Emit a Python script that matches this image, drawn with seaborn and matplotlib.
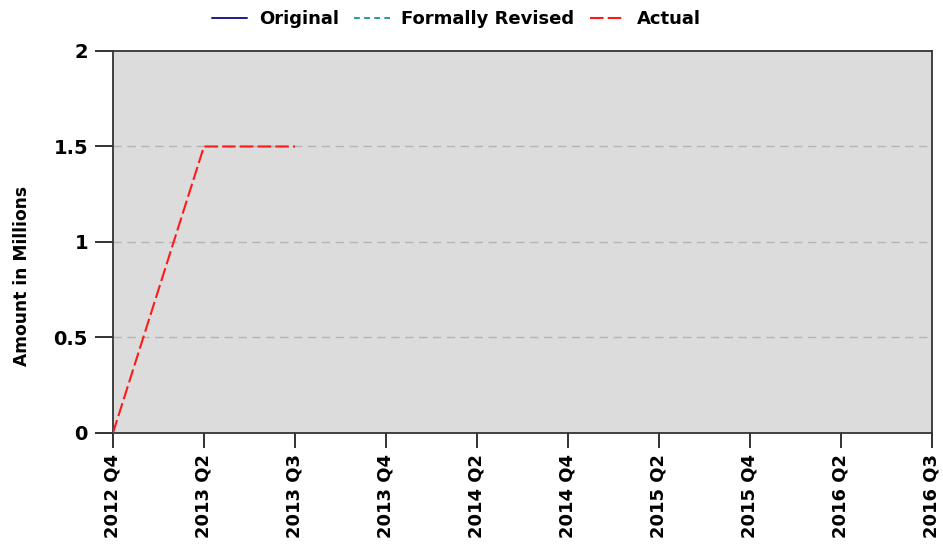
import matplotlib
matplotlib.use("Agg")
import matplotlib.pyplot as plt
import seaborn as sns
import numpy as np
import pandas as pd

quarters = ["2012 Q4", "2013 Q2", "2013 Q3", "2013 Q4", "2014 Q2",
            "2014 Q4", "2015 Q2", "2015 Q4", "2016 Q2", "2016 Q3"]
original = [np.nan] * 10
formally_revised = [np.nan] * 10
actual = [0.0, 1.5, 1.5, np.nan, np.nan, np.nan, np.nan, np.nan, np.nan, np.nan]
y_ticks = [0, 0.5, 1, 1.5, 2]
y_tick_labels = ["0", "0.5", "1", "1.5", "2"]

sns.set_theme(style="white")
plt.rcParams['font.family'] = ['DejaVu Sans']
plt.rcParams['text.color'] = 'black'

fig = plt.figure(figsize=(9.43, 5.46), dpi=100)
ax = fig.add_axes([0.1198, 0.207, 0.8685, 0.6996])
ax.set_facecolor("#dcdcdc")

x = np.arange(len(quarters))
df = pd.DataFrame({"x": x, "Original": original,
                   "Formally Revised": formally_revised, "Actual": actual})

sns.lineplot(data=df, x="x", y="Original", ax=ax, color="#1a1a8c",
             linewidth=1.4, label="Original", legend=False)
sns.lineplot(data=df, x="x", y="Formally Revised", ax=ax, color="#2a9a9a",
             linewidth=1.4, label="Formally Revised", legend=False)
sns.lineplot(data=df, x="x", y="Actual", ax=ax, color="#ff1a1a",
             linewidth=1.5, label="Actual", legend=False)
lines = ax.get_lines()
lines[1].set_dashes((3, 2.2))
lines[2].set_dashes((6.5, 2))
for ln in lines:
    ln.set_zorder(3)

ax.set_xlim(0, len(quarters) - 1)
ax.set_ylim(0, 2)
ax.set_xticks(x)
ax.set_xticklabels(quarters, rotation=90, fontsize=13, fontweight="bold", color="black")
ax.set_yticks(y_ticks)
ax.set_yticklabels(y_tick_labels, fontsize=14, fontweight="bold", color="black")
ax.set_xlabel("")
ax.set_ylabel("Amount in Millions", fontsize=12.3, fontweight="bold", color="black")
ax.yaxis.set_label_coords(-0.100, 0.411)

for yv in [0.5, 1, 1.5]:
    ax.axhline(yv, color="#b4b4b4", linestyle=(0, (6, 4)), linewidth=1.0, zorder=0.5)

for s in ax.spines.values():
    s.set_visible(True)
    s.set_color("#333333")
    s.set_linewidth(1.3)

ax.tick_params(axis="y", which="both", direction="out", length=13, width=1.3,
               color="#222222", left=True, pad=5)
ax.tick_params(axis="x", which="both", direction="out", length=11, width=1.3,
               color="#222222", bottom=True, pad=4)

handles = lines[:3]
labels = ["Original", "Formally Revised", "Actual"]
leg = fig.legend(handles, labels, loc="center", bbox_to_anchor=(0.484, 0.965),
                 ncol=3, frameon=False, fontsize=13, handlelength=1.95,
                 columnspacing=0.85, handletextpad=0.65)
for t in leg.get_texts():
    t.set_fontweight("bold")
    t.set_color("black")

fig.savefig("out.png", dpi=100)
